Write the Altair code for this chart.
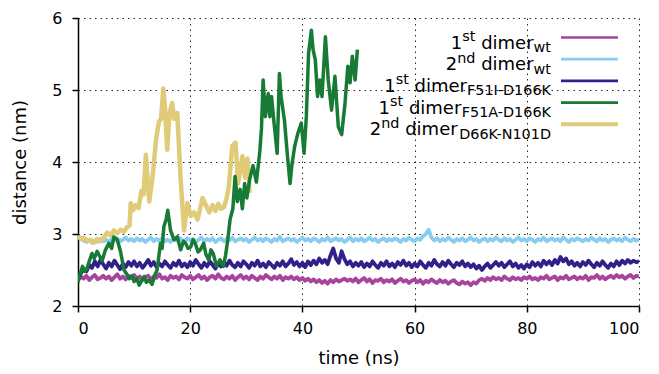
import altair as alt
import pandas as pd

# ---------------------------------------------------------------
# Distance traces (nm) versus simulation time (ns)
# ---------------------------------------------------------------

# 100-ns runs, written every 0.5 ns
T_FULL = [i * 0.5 for i in range(201)]

DIST_WT_1 = [
    2.37, 2.41, 2.38, 2.42, 2.36, 2.40, 2.43, 2.37, 2.39, 2.42,
    2.38, 2.41, 2.36, 2.40, 2.44, 2.38, 2.41, 2.37, 2.42, 2.39,
    2.43, 2.38, 2.41, 2.36, 2.40, 2.42, 2.37, 2.41, 2.39, 2.44,
    2.38, 2.40, 2.36, 2.42, 2.39, 2.41, 2.37, 2.43, 2.40, 2.38,
    2.42, 2.37, 2.40, 2.43, 2.38, 2.41, 2.36, 2.40, 2.42, 2.38,
    2.44, 2.39, 2.37, 2.41, 2.38, 2.42, 2.36, 2.40, 2.43, 2.38,
    2.41, 2.37, 2.42, 2.39, 2.36, 2.41, 2.38, 2.43, 2.40, 2.37,
    2.41, 2.38, 2.42, 2.36, 2.40, 2.38, 2.41, 2.37, 2.40, 2.36,
    2.39, 2.35, 2.38, 2.34, 2.37, 2.33, 2.36, 2.32, 2.35, 2.31,
    2.36, 2.33, 2.37, 2.34, 2.36, 2.38, 2.35, 2.37, 2.34, 2.38,
    2.33, 2.36, 2.39, 2.34, 2.37, 2.32, 2.36, 2.35, 2.38, 2.33,
    2.36, 2.34, 2.37, 2.32, 2.35, 2.38, 2.34, 2.36, 2.32, 2.35,
    2.37, 2.33, 2.36, 2.31, 2.35, 2.33, 2.37, 2.34, 2.32, 2.36,
    2.33, 2.35, 2.31, 2.34, 2.36, 2.32, 2.30, 2.34, 2.31, 2.33,
    2.29, 2.33, 2.31, 2.36, 2.38, 2.35, 2.39, 2.36, 2.40, 2.37,
    2.39, 2.36, 2.41, 2.38, 2.36, 2.40, 2.37, 2.39, 2.36, 2.40,
    2.38, 2.41, 2.37, 2.39, 2.36, 2.40, 2.38, 2.42, 2.37, 2.39,
    2.41, 2.36, 2.40, 2.38, 2.42, 2.37, 2.39, 2.41, 2.37, 2.40,
    2.38, 2.42, 2.36, 2.40, 2.39, 2.43, 2.38, 2.41, 2.37, 2.40,
    2.42, 2.39, 2.43, 2.40, 2.42, 2.38, 2.41, 2.43, 2.39, 2.42,
    2.41,
]

DIST_WT_2 = [
    2.97, 2.94, 2.91, 2.89, 2.92, 2.88, 2.91, 2.89, 2.93, 2.90,
    2.92, 2.89, 2.93, 2.91, 2.94, 2.90, 2.92, 2.95, 2.91, 2.93,
    2.90, 2.94, 2.91, 2.93, 2.89, 2.92, 2.95, 2.90, 2.93, 2.91,
    2.94, 2.90, 2.92, 2.89, 2.93, 2.91, 2.95, 2.92, 2.90, 2.94,
    2.91, 2.93, 2.89, 2.92, 2.95, 2.90, 2.93, 2.91, 2.94, 2.89,
    2.92, 2.94, 2.90, 2.93, 2.91, 2.95, 2.90, 2.92, 2.94, 2.91,
    2.93, 2.89, 2.92, 2.95, 2.91, 2.93, 2.90, 2.94, 2.92, 2.89,
    2.93, 2.91, 2.96, 2.90, 2.92, 2.94, 2.91, 2.93, 2.89, 2.92,
    2.95, 2.91, 2.93, 2.90, 2.94, 2.92, 2.89, 2.93, 2.91, 2.95,
    2.90, 2.92, 2.94, 2.91, 2.93, 2.89, 2.92, 2.95, 2.90, 2.93,
    2.91, 2.94, 2.90, 2.92, 2.95, 2.91, 2.93, 2.89, 2.92, 2.94,
    2.90, 2.93, 2.91, 2.94, 2.92, 2.89, 2.93, 2.91, 2.95, 2.92,
    2.90, 2.94, 2.92, 2.97, 3.00, 3.06, 2.95, 2.91, 2.94, 2.90,
    2.93, 2.91, 2.95, 2.92, 2.89, 2.93, 2.91, 2.94, 2.90, 2.92,
    2.95, 2.91, 2.93, 2.89, 2.92, 2.94, 2.90, 2.93, 2.91, 2.95,
    2.92, 2.90, 2.94, 2.91, 2.93, 2.89, 2.92, 2.95, 2.91, 2.93,
    2.90, 2.94, 2.92, 2.89, 2.93, 2.91, 2.95, 2.90, 2.92, 2.94,
    2.91, 2.93, 2.90, 2.95, 2.92, 2.89, 2.93, 2.91, 2.94, 2.92,
    2.90, 2.93, 2.91, 2.95, 2.92, 2.90, 2.94, 2.91, 2.93, 2.89,
    2.92, 2.94, 2.91, 2.93, 2.90, 2.95, 2.92, 2.90, 2.93, 2.91,
    2.92,
]

DIST_F51I_1 = [
    2.36, 2.45, 2.52, 2.48, 2.57, 2.53, 2.62, 2.55, 2.64, 2.58,
    2.52, 2.60, 2.55, 2.63, 2.57, 2.51, 2.59, 2.54, 2.61, 2.56,
    2.62, 2.55, 2.60, 2.53, 2.58, 2.64, 2.56, 2.61, 2.54, 2.59,
    2.55, 2.62, 2.57, 2.53, 2.60, 2.56, 2.63, 2.55, 2.59, 2.54,
    2.61, 2.56, 2.64, 2.58, 2.53, 2.60, 2.55, 2.62, 2.57, 2.52,
    2.59, 2.55, 2.61, 2.56, 2.63, 2.57, 2.54, 2.60, 2.55, 2.62,
    2.58, 2.53, 2.60, 2.56, 2.63, 2.55, 2.59, 2.54, 2.61, 2.57,
    2.53, 2.60, 2.56, 2.62, 2.55, 2.59, 2.65, 2.57, 2.61, 2.55,
    2.60, 2.54, 2.62, 2.57, 2.63, 2.58, 2.66, 2.60, 2.64, 2.58,
    2.70, 2.80, 2.66, 2.60, 2.76, 2.65, 2.58, 2.62, 2.55, 2.60,
    2.56, 2.61, 2.54, 2.59, 2.55, 2.62, 2.57, 2.53, 2.60, 2.56,
    2.62, 2.55, 2.59, 2.54, 2.61, 2.57, 2.63, 2.56, 2.60, 2.54,
    2.59, 2.55, 2.62, 2.57, 2.53, 2.60, 2.56, 2.64, 2.58, 2.55,
    2.61, 2.56, 2.63, 2.58, 2.54, 2.60, 2.57, 2.62, 2.55, 2.59,
    2.54, 2.58, 2.52, 2.56, 2.50, 2.55, 2.59, 2.53, 2.57, 2.61,
    2.56, 2.60, 2.54, 2.58, 2.62, 2.55, 2.59, 2.53, 2.57, 2.52,
    2.58, 2.54, 2.61, 2.56, 2.60, 2.55, 2.63, 2.58, 2.62, 2.57,
    2.64, 2.59, 2.68, 2.62, 2.66, 2.58, 2.62, 2.56, 2.60, 2.55,
    2.61, 2.57, 2.63, 2.58, 2.54, 2.60, 2.56, 2.62, 2.57, 2.53,
    2.59, 2.55, 2.62, 2.57, 2.63, 2.59, 2.64, 2.60, 2.63, 2.61,
    2.62,
]

# 50-ns run of the F51A-D166K dimer
T_F51A = [
    0.0, 0.4, 0.8, 1.2, 1.6, 2.0, 2.5, 2.9, 3.4, 3.8,
    4.3, 4.9, 5.5, 6.0, 6.4, 7.0, 7.6, 8.2, 8.7, 9.1,
    9.6, 10.0, 10.5, 10.9, 11.4, 11.8, 12.2, 12.7, 13.2, 13.6,
    14.1, 14.7, 15.0, 15.3, 15.7, 16.0, 16.5, 17.1, 17.7, 18.3,
    18.8, 19.2, 19.6, 20.1, 20.5, 20.9, 21.4, 21.8, 22.4, 22.8,
    23.3, 23.7, 24.1, 24.7, 25.3, 25.9, 26.3, 26.7, 27.1, 27.6,
    28.0, 28.4, 28.9, 29.3, 29.7, 30.1, 30.6, 31.2, 31.8, 32.4,
    32.7, 33.0, 33.4, 33.9, 34.2, 34.5, 34.9, 35.5, 35.9, 36.2,
    36.8, 37.3, 37.8, 38.1, 38.6, 39.2, 39.8, 40.3, 40.7, 41.1,
    41.6, 41.9, 42.3, 42.7, 43.1, 43.5, 44.1, 44.6, 45.2, 45.8,
    46.4, 47.0, 47.6, 48.1, 48.5, 48.9, 49.4, 49.8,
]
DIST_F51A_1 = [
    2.33, 2.45, 2.55, 2.48, 2.52, 2.62, 2.73, 2.66, 2.76, 2.70,
    2.63, 2.78, 2.87, 2.80, 2.96, 2.92, 2.75, 2.50, 2.44, 2.38,
    2.42, 2.34, 2.38, 2.29, 2.36, 2.41, 2.33, 2.36, 2.30, 2.41,
    2.50, 2.87, 2.80, 3.10, 3.20, 3.33, 3.05, 2.92, 2.96, 2.78,
    2.90, 2.87, 2.80, 2.82, 2.92, 2.87, 2.75, 2.78, 2.87, 2.72,
    2.64, 2.78, 2.73, 2.55, 2.64, 2.55, 2.70, 2.92, 3.20, 3.35,
    3.80, 3.45, 3.62, 3.35, 3.70, 3.50, 3.76, 3.95, 3.72, 4.14,
    4.46, 5.14, 4.63, 4.95, 4.63, 4.91, 4.58, 4.12, 5.23, 4.91,
    4.58, 4.12, 3.70, 3.94, 4.21, 4.40, 4.54, 4.12, 4.63, 5.51,
    5.83, 5.56, 5.42, 4.91, 5.14, 4.91, 5.74, 5.14, 4.72, 5.19,
    4.49, 4.38, 4.82, 5.33, 5.10, 5.47, 5.14, 5.56,
]

# ~30-ns run of the D66K-N101D dimer
T_D66K = [
    0.0, 0.5, 1.0, 1.6, 2.2, 2.8, 3.4, 4.0, 4.6, 5.2,
    5.8, 6.4, 7.0, 7.6, 8.2, 8.8, 9.2, 9.4, 9.8, 10.3,
    10.8, 11.3, 11.7, 12.1, 12.7, 13.3, 13.9, 14.4, 14.8, 15.2,
    15.5, 15.9, 16.3, 16.8, 17.1, 17.7, 18.3, 18.9, 19.5, 20.1,
    20.7, 21.3, 21.8, 22.2, 22.8, 23.4, 24.0, 24.5, 25.0, 25.5,
    26.0, 26.5, 26.9, 27.5, 28.1, 28.5, 28.9, 29.3, 29.8, 30.2,
    30.6,
]
DIST_D66K_2 = [
    2.97, 2.93, 2.95, 2.90, 2.92, 2.88, 2.93, 2.90, 2.95, 3.02,
    2.98, 3.05, 3.01, 3.06, 3.03, 3.10, 3.12, 3.43, 3.33, 3.40,
    3.36, 3.60, 3.55, 4.10, 3.45, 3.80, 4.30, 4.55, 4.60, 5.02,
    4.77, 4.17, 4.68, 4.82, 4.60, 4.68, 3.75, 3.05, 3.43, 3.25,
    3.30, 3.20, 3.36, 3.50, 3.40, 3.30, 3.40, 3.32, 3.42, 3.35,
    3.37, 3.50, 3.67, 4.22, 4.27, 3.70, 3.86, 4.08, 3.78, 4.05,
    3.57,
]

# key entries: ordinal, ordinal suffix, mutant tag
KEY_NUM = ["1", "2", "1", "1", "2"]
KEY_SUP = ["st", "nd", "st", "st", "nd"]
KEY_SUB = ["wt", "wt", "F51I-D166K", "F51A-D166K", "D66K-N101D"]
COLORS = ["#a6449e", "#88cdee", "#30208a", "#177a35", "#dfcb78"]
LINE_WIDTHS = [3.8, 3.8, 3.8, 3.5, 4.5]
KEY_WIDTHS = [2.7, 2.7, 2.7, 2.7, 4]

X_TICKS = [0, 20, 40, 60, 80, 100]
Y_TICKS = [2, 3, 4, 5, 6]

FONT = "DejaVu Sans"
W, H = 561, 288

series = [
    (T_FULL, DIST_WT_1, 0),
    (T_FULL, DIST_WT_2, 1),
    (T_FULL, DIST_F51I_1, 2),
    (T_D66K, DIST_D66K_2, 4),
    (T_F51A, DIST_F51A_1, 3),
]

x_enc = alt.X(
    "t:Q",
    scale=alt.Scale(domain=[0, 100], nice=False, zero=False),
    axis=alt.Axis(values=X_TICKS, title="time (ns)", titleY=52,
                  titleBaseline="middle", labelPadding=8),
)
y_enc = alt.Y(
    "d:Q",
    scale=alt.Scale(domain=[2, 6], nice=False, zero=False),
    axis=alt.Axis(values=Y_TICKS, title="distance (nm)", titleX=-58,
                  titleY=H / 2, titleBaseline="middle", titleAngle=270,
                  titleAlign="center", labelPadding=10),
)

lines = []
for t, d, k in series:
    df = pd.DataFrame({"t": t, "d": d})
    lines.append(
        alt.Chart(df)
        .mark_line(color=COLORS[k], strokeWidth=LINE_WIDTHS[k], strokeJoin="round", clip=True)
        .encode(x=x_enc, y=y_enc)
    )

# DejaVu Sans advance widths (units per em = 2048) for laying out the key text
ADV = {
    "0": 1303, "1": 1303, "2": 1303, "5": 1303, "6": 1303,
    "s": 1067, "t": 803, "n": 1298, "d": 1300, " ": 651, "i": 569,
    "m": 1995, "e": 1260, "r": 842, "w": 1675, "F": 1178, "I": 604,
    "-": 739, "D": 1577, "K": 1343, "A": 1401, "N": 1532,
}


def text_width(s, size):
    return sum(ADV[c] for c in s) / 2048 * size


MAIN, SMALL = 18, 14.4
KEY_RIGHT = 473
KEY_X0, KEY_X1 = 483, 540
KEY_TOP, KEY_STEP = 19.5, 21.7

one = alt.Data(values=[{}])


def key_text(s, x, y, size):
    return alt.Chart(one).mark_text(
        text=s, align="right", baseline="alphabetic", font=FONT,
        fontSize=size, color="black",
    ).encode(x=alt.value(x), y=alt.value(y))


key = []
for i in range(len(KEY_NUM)):
    y_line = KEY_TOP + i * KEY_STEP
    base = y_line + 11
    key.append(
        alt.Chart(one)
        .mark_rule(color=COLORS[i], strokeWidth=KEY_WIDTHS[i])
        .encode(x=alt.value(KEY_X0), x2=alt.value(KEY_X1), y=alt.value(y_line))
    )
    x = KEY_RIGHT
    key.append(key_text(KEY_SUB[i], x, base + 3.5, SMALL))
    x -= text_width(KEY_SUB[i], SMALL)
    key.append(key_text("dimer", x, base, MAIN))
    x -= text_width(" dimer", MAIN)
    key.append(key_text(KEY_SUP[i], x, base - 7.5, SMALL))
    x -= text_width(KEY_SUP[i], SMALL)
    key.append(key_text(KEY_NUM[i], x, base, MAIN))

chart = (
    alt.layer(*lines, *key)
    .properties(
        width=W, height=H,
        autosize=alt.AutoSizeParams(type="none"),
        padding={"left": 78, "top": 18, "right": 20, "bottom": 68},
        background="white",
    )
    .configure_view(stroke=None)
    .configure_axis(
        domainColor="black", domainWidth=1.5,
        tickColor="black", tickWidth=1.5, tickSize=6,
        labelFont=FONT, labelFontSize=16, labelColor="black",
        titleFont=FONT, titleFontSize=18, titleFontWeight="normal", titleColor="black",
        grid=True, gridColor="black", gridDash=[1.5, 4], gridWidth=1, gridOpacity=0.85,
    )
)

chart.save("out.html", embed_options={"renderer": "svg", "actions": False})
